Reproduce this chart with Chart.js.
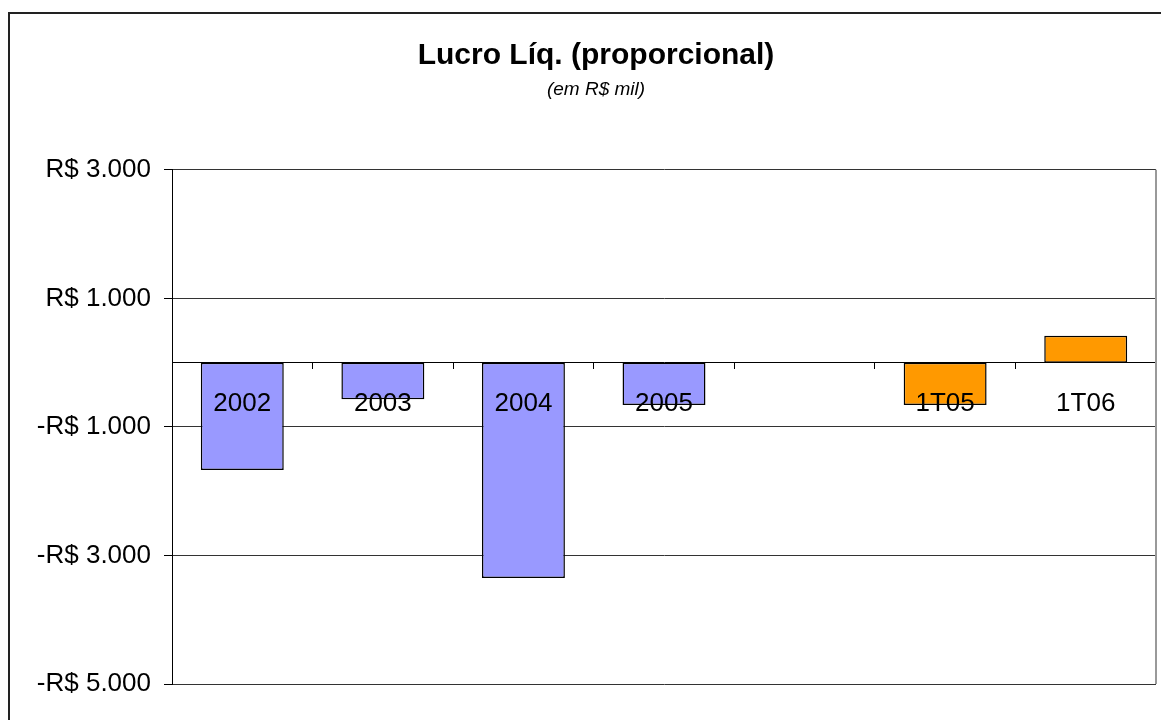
<!DOCTYPE html>
<html>
<head>
<meta charset="utf-8">
<script src="https://cdn.jsdelivr.net/npm/chart.js@4.4.1/dist/chart.umd.min.js"></script>
<style>
  html, body { margin: 0; padding: 0; background: #fff; overflow: hidden; }
  #frame { position: absolute; left: 8px; top: 12px; width: 1172px; height: 740px; border: 2px solid #222; }
  canvas { display: block; }
</style>
</head>
<body>
<div id="frame"><canvas id="myChart" width="1172" height="740"></canvas></div>
<script>
const categorias = ['2002', '2003', '2004', '2005', '', '1T05', '1T06'];
const lucro = [-1670, -570, -3350, -660, null, -660, 420];
const coresBarras = ['#9999FF', '#9999FF', '#9999FF', '#9999FF', '#9999FF', '#FF9900', '#FF9900'];
const ticksY = [3000, 1000, -1000, -3000, -5000];

const fonte = "'Liberation Sans', Arial, sans-serif";

function formatoReal(v) {
    const abs = Math.abs(v).toLocaleString('pt-BR');
    return (v < 0 ? '-' : '') + 'R$ ' + abs;
}

// borda direita cinza da área de plotagem
const bordaDireita = {
    id: 'bordaDireita',
    afterDraw(chart) {
        const { ctx, chartArea } = chart;
        ctx.save();
        ctx.strokeStyle = '#999';
        ctx.lineWidth = 2;
        ctx.beginPath();
        ctx.moveTo(chartArea.right, chartArea.top);
        ctx.lineTo(chartArea.right, chartArea.bottom);
        ctx.stroke();
        ctx.restore();
    }
};

const ctx = document.getElementById('myChart');

new Chart(ctx, {
    type: 'bar',
    data: {
        labels: categorias,
        datasets: [{
            label: 'Lucro Líq.',
            data: lucro,
            backgroundColor: coresBarras,
            borderColor: '#000',
            borderWidth: 1.5,
            borderSkipped: false,
            categoryPercentage: 1,
            barPercentage: 0.59
        }]
    },
    plugins: [bordaDireita],
    options: {
        responsive: false,
        animation: false,
        layout: { padding: { top: 0, right: 0, bottom: 70, left: 0 } },
        plugins: {
            legend: { display: false },
            tooltip: { enabled: false },
            title: {
                display: true,
                text: 'Lucro Líq. (proporcional)',
                color: '#000',
                font: { family: fonte, size: 30, weight: 'bold' },
                padding: { top: 24, bottom: 2 }
            },
            subtitle: {
                display: true,
                text: '(em R$ mil)',
                color: '#000',
                font: { family: fonte, size: 19, style: 'italic' },
                padding: { top: 2, bottom: 69 }
            }
        },
        scales: {
            x: {
                position: { y: 0 },
                grid: {
                    display: true,
                    offset: true,
                    drawOnChartArea: false,
                    drawTicks: true,
                    tickLength: 6,
                    color: '#000',
                    z: 1
                },
                border: { display: true, color: '#000', width: 1, z: 1 },
                ticks: {
                    color: '#000',
                    font: { family: fonte, size: 26 },
                    padding: 20,
                    maxRotation: 0,
                    z: 1
                }
            },
            y: {
                min: -5000,
                max: 3000,
                afterBuildTicks(scale) {
                    scale.ticks = ticksY.map(v => ({ value: v }));
                },
                afterFit(scale) {
                    scale.width = 162;
                },
                grid: {
                    color: '#333',
                    lineWidth: 1,
                    tickLength: 8,
                    tickColor: '#000'
                },
                border: { display: true, color: '#000', width: 1 },
                ticks: {
                    color: '#000',
                    font: { family: fonte, size: 26 },
                    padding: 13,
                    callback: v => formatoReal(v)
                }
            },
            // eixo vazio à direita só para reservar a margem
            margemDireita: {
                type: 'linear',
                position: 'right',
                grid: { display: false },
                border: { display: false },
                ticks: { display: false },
                afterFit(scale) {
                    scale.width = 26;
                }
            }
        }
    }
});
</script>
</body>
</html>
